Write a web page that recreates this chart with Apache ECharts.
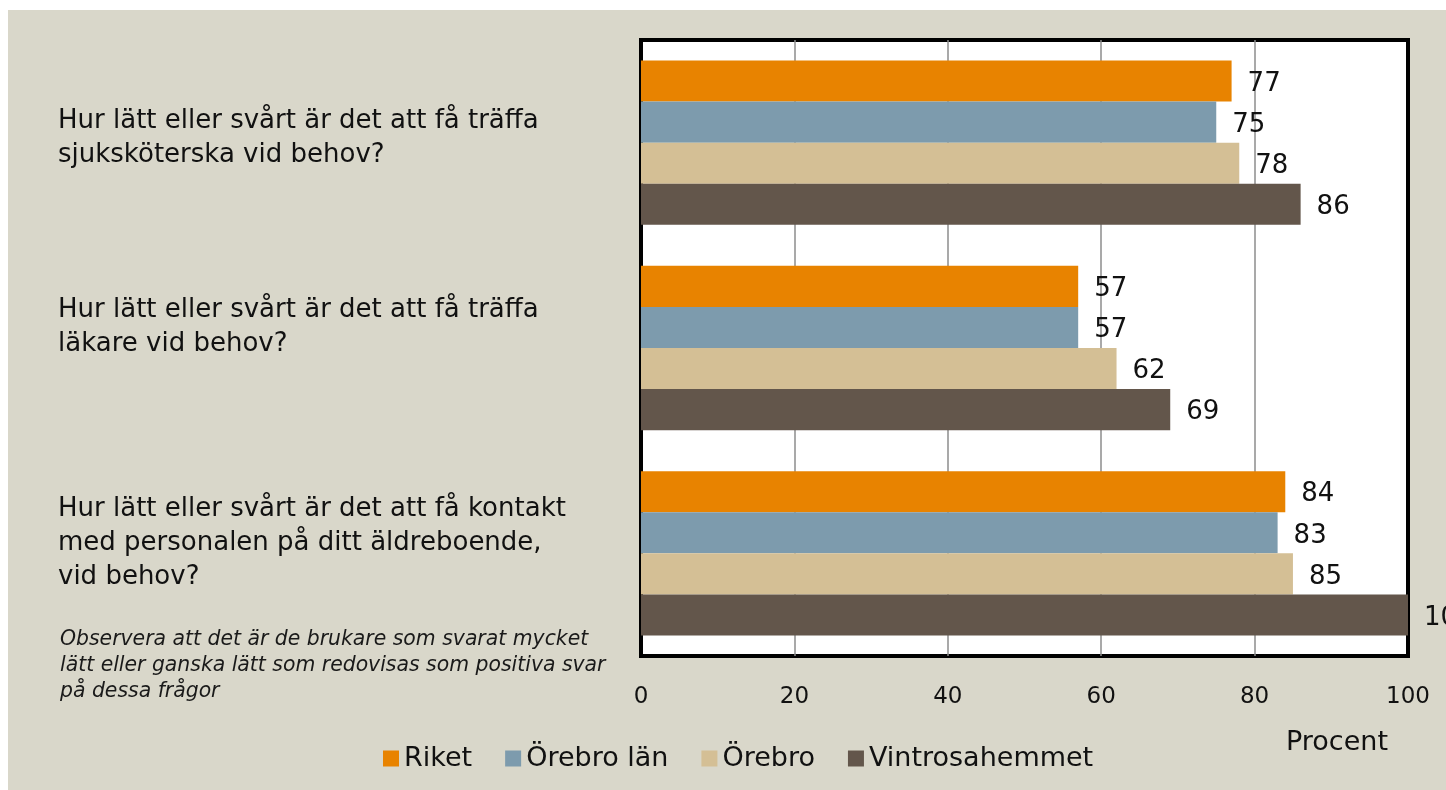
<!DOCTYPE html>
<html>
<head>
<meta charset="utf-8">
<script src="https://cdn.jsdelivr.net/npm/echarts@6/dist/echarts.min.js"></script>
<style>
html,body{margin:0;padding:0;background:#fff;}
#chart{width:1446px;height:790px;}
</style>
</head>
<body>
<div id="chart"></div>
<script>
const categories = [
  'Hur lätt eller svårt är det att få träffa\nsjuksköterska vid behov?',
  'Hur lätt eller svårt är det att få träffa\nläkare vid behov?',
  'Hur lätt eller svårt är det att få kontakt\nmed personalen på ditt äldreboende,\nvid behov?'
];
const seriesNames = ['Riket', 'Örebro län', 'Örebro', 'Vintrosahemmet'];
const riket = [77, 57, 84];
const orebroLan = [75, 57, 83];
const orebro = [78, 62, 85];
const vintrosahemmet = [86, 69, 100];
const xTicks = [0, 20, 40, 60, 80, 100];
const noteText = 'Observera att det är de brukare som svarat mycket\nlätt eller ganska lätt som redovisas som positiva svar\npå dessa frågor';

const colors = ['#E88300', '#7D9BAD', '#D4BF95', '#63564B'];
const FONT = 'DejaVu Sans';
const values = [riket, orebroLan, orebro, vintrosahemmet];
// spacer heights used to lift each category label (layout only)
const labelLift = [8, 42, 20];

const chart = echarts.init(document.getElementById('chart'), null, {renderer: 'canvas'});
const rich = {t: {fontFamily: FONT, fontSize: 26, lineHeight: 34, color: '#111'}};
labelLift.forEach((h, i) => { rich['s' + i] = {fontSize: 2, lineHeight: h}; });

const option = {
  backgroundColor: '#ffffff',
  animation: false,
  textStyle: {fontFamily: FONT},
  graphic: [
    {type: 'rect', z: -10, silent: true, shape: {x: 8, y: 10, width: 1438, height: 780}, style: {fill: '#D9D7CA'}},
    {type: 'text', left: 60, top: 627, z: 10, style: {text: noteText, font: 'italic 20.4px "DejaVu Sans"', fill: '#1a1a1a', lineHeight: 26}}
  ],
  legend: {
    left: 378, top: 740,
    itemWidth: 16, itemHeight: 16, itemGap: 33,
    icon: 'rect',
    textStyle: {fontFamily: FONT, fontSize: 27, color: '#111'},
    data: seriesNames
  },
  grid: {
    left: 641, right: 38, top: 40, bottom: 134,
    show: true, borderColor: '#000', borderWidth: 4, backgroundColor: '#fff'
  },
  xAxis: {
    type: 'value', min: xTicks[0], max: xTicks[xTicks.length - 1], interval: 20,
    axisLine: {show: false}, axisTick: {show: false},
    splitLine: {show: true, showMinLine: false, showMaxLine: false, lineStyle: {color: '#8c8c8c', width: 1.5}},
    axisLabel: {fontFamily: FONT, fontSize: 23, color: '#111', margin: 30},
    name: 'Procent', nameLocation: 'end', nameGap: -20,
    nameTextStyle: {fontFamily: FONT, fontSize: 27, color: '#111', align: 'right', verticalAlign: 'top', padding: [73, 0, 0, 0]}
  },
  yAxis: {
    type: 'category', inverse: true, data: categories,
    axisLine: {show: false}, axisTick: {show: false}, splitLine: {show: false},
    axisLabel: {
      align: 'left', margin: 583,
      formatter: function (value, index) {
        return value.split('\n').map(l => '{t|' + l + '}').join('\n') + '\n{s' + index + '| }';
      },
      rich: rich
    }
  },
  series: seriesNames.map((name, i) => ({
    name: name, type: 'bar', data: values[i],
    barGap: '0%', barCategoryGap: '20%',
    itemStyle: {color: colors[i]},
    label: {show: true, position: 'right', distance: 16, offset: [0, 3], fontFamily: FONT, fontSize: 26, color: '#111'}
  }))
};
chart.setOption(option);
</script>
</body>
</html>
